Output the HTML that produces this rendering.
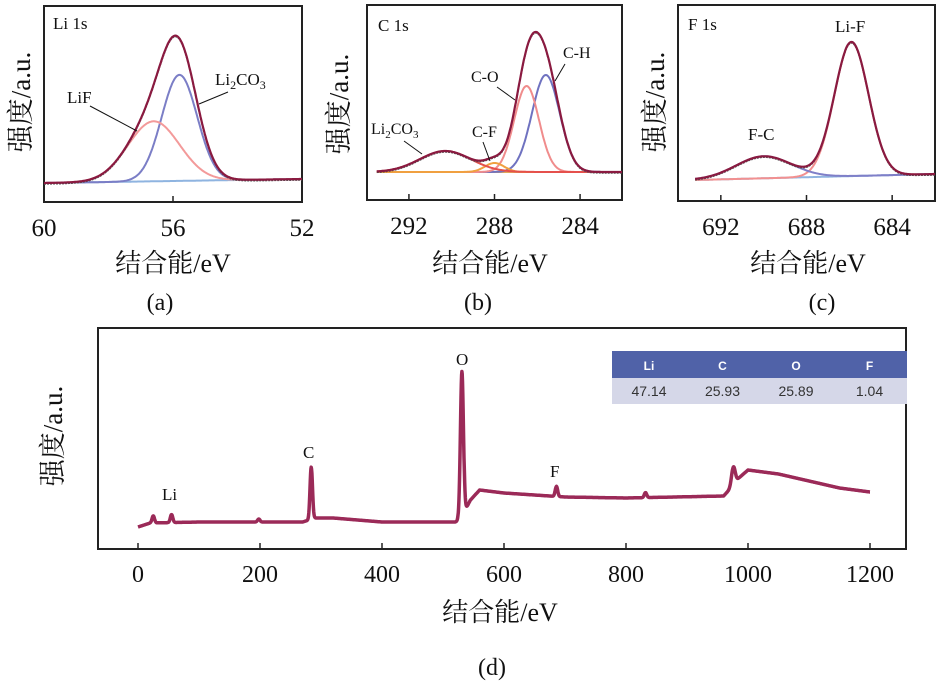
<!DOCTYPE html>
<html><head><meta charset="utf-8"><style>
body{margin:0;background:#fff;width:940px;height:693px;overflow:hidden}
svg{display:block}
text{font-family:"Liberation Serif","Noto Serif CJK SC",serif;fill:#111}
</style></head><body>
<svg id="fig" width="940" height="693" viewBox="0 0 940 693">
<rect x="44" y="6" width="258" height="196" fill="none" stroke="#222" stroke-width="2"/>
<rect x="367" y="5" width="255" height="195" fill="none" stroke="#222" stroke-width="2"/>
<rect x="678" y="5" width="257" height="196" fill="none" stroke="#222" stroke-width="2"/>
<rect x="98" y="328" width="808" height="221" fill="none" stroke="#222" stroke-width="2"/>
<g id="plots"></g>
<text x="53" y="29" font-size="17">Li 1s</text>
<text x="378" y="31" font-size="17">C 1s</text>
<text x="688" y="30" font-size="17">F 1s</text>
<text x="67" y="103" font-size="17">LiF</text>
<line x1="90" y1="106" x2="137" y2="131" stroke="#111"/>
<text x="215" y="85" font-size="17">Li<tspan font-size="12" dy="4">2</tspan><tspan dy="-4">CO</tspan><tspan font-size="12" dy="4">3</tspan></text>
<line x1="228" y1="92" x2="199" y2="104" stroke="#111"/>
<text x="371" y="134" font-size="16">Li<tspan font-size="11" dy="4">2</tspan><tspan dy="-4">CO</tspan><tspan font-size="11" dy="4">3</tspan></text>
<line x1="404" y1="141" x2="422" y2="154" stroke="#111"/>
<text x="472" y="137" font-size="16">C-F</text>
<line x1="483" y1="142" x2="490" y2="161" stroke="#111"/>
<text x="471" y="82" font-size="16">C-O</text>
<line x1="497" y1="87" x2="515" y2="100" stroke="#111"/>
<text x="563" y="58" font-size="16">C-H</text>
<line x1="565" y1="64" x2="555" y2="81" stroke="#111"/>
<text x="748" y="140" font-size="17">F-C</text>
<text x="835" y="32" font-size="17">Li-F</text>
<text x="162" y="500" font-size="17">Li</text>
<text x="303" y="458" font-size="17">C</text>
<text x="456" y="365" font-size="17">O</text>
<text x="550" y="477" font-size="17">F</text>
<text transform="translate(30,102) rotate(-90)" font-size="27" text-anchor="middle">强度/a.u.</text>
<text transform="translate(348,104) rotate(-90)" font-size="27" text-anchor="middle">强度/a.u.</text>
<text transform="translate(664,102) rotate(-90)" font-size="27" text-anchor="middle">强度/a.u.</text>
<text transform="translate(62,436) rotate(-90)" font-size="27" text-anchor="middle">强度/a.u.</text>
<text x="173" y="272" font-size="26" text-anchor="middle">结合能/eV</text>
<text x="490" y="272" font-size="26" text-anchor="middle">结合能/eV</text>
<text x="808" y="272" font-size="26" text-anchor="middle">结合能/eV</text>
<text x="500" y="621" font-size="26" text-anchor="middle">结合能/eV</text>
<text x="160" y="310" font-size="24" text-anchor="middle">(a)</text>
<text x="478" y="310" font-size="24" text-anchor="middle">(b)</text>
<text x="822" y="310" font-size="24" text-anchor="middle">(c)</text>
<text x="492" y="675" font-size="24" text-anchor="middle">(d)</text>
<g>
<rect x="612" y="351" width="295" height="27" fill="#5062a8"/>
<rect x="612" y="378" width="295" height="26" fill="#d5d7e8"/>
</g>
</svg>
<script>
// ---- data ----
const aTicks=[60,56,52];
const aCenters=[55.8,56.6];          // Li2CO3, LiF
const aHeights=[106,60];
const aWidths=[0.55,0.8];
const bTicks=[292,288,284];
const bCenters=[285.6,286.5,288.0,290.3]; // C-H, C-O, C-F, Li2CO3
const bHeights=[97,86,9,21];
const bWidths=[0.65,0.58,0.45,1.2];
const cTicks=[692,688,684];
const cCenters=[685.9,690.0];       // Li-F, F-C
const cHeights=[134,22];
const cWidths=[0.8,1.3];
const dTicks=[0,200,400,600,800,1000,1200];
const dBgE=[0,20,100,270,290,320,400,520,528,545,560,600,700,800,960,972,985,1000,1050,1150,1200];
const dBgI=[3,7,8,8,12,12,8,8,10,30,40,37,33,32,34,42,52,60,56,42,38];
const dPeakE=[25,55,198,284,531,686,832,976];
const dPeakI=[7,8,3,52,145,10,5,18];
const dPeakW=[2,2,2,2,2.5,2,2,3];
const tableHead=["Li","C","O","F"];
const tableVals=["47.14","25.93","25.89","1.04"];

const NS="http://www.w3.org/2000/svg";
const g=document.getElementById('plots');
function mk(tag,attrs){const e=document.createElementNS(NS,tag);for(const k in attrs)e.setAttribute(k,attrs[k]);return e;}
function gauss(x,c,h,w){return h*Math.exp(-(x-c)*(x-c)/(2*w*w));}
function pathFrom(pts){return pts.map((p,i)=>(i?'L':'M')+p[0].toFixed(1)+','+p[1].toFixed(1)).join('');}

function panel(key,xlo,xhi,px0,px1,base0,base1,ticks,cen,hei,wid,colors,totalColor,baseColor,tickY,dataLo,dataHi){
  const sx=e=>px0+(e-xlo)/(xhi-xlo)*(px1-px0);
  const basePx=e=>base0+(e-dataLo)/(dataHi-dataLo)*(base1-base0);
  const N=300;const comps=cen.map(()=>[]);const tot=[];const base=[];
  for(let i=0;i<=N;i++){
    const e=dataLo+(dataHi-dataLo)*i/N;const x=sx(e);const b=basePx(e);let s=0;
    cen.forEach((c,j)=>{const v=gauss(e,c,hei[j],wid[j]);s+=v;comps[j].push([x,b-v]);});
    tot.push([x,b-s]);base.push([x,b]);
  }
  const bl=mk('path',{d:pathFrom(base),fill:'none',stroke:baseColor,'stroke-width':2});
  
  
  g.appendChild(bl);
  comps.forEach((pts,j)=>{
    const p=mk('path',{d:pathFrom(pts),fill:'none',stroke:colors[j],'stroke-width':2});
    
    
    g.appendChild(p);
  });
  const d=mk('path',{d:pathFrom(tot.map(p=>[p[0],p[1]+1])),fill:'none',stroke:'#555','stroke-width':1.5,'stroke-dasharray':'2 1'});
  
  
  g.appendChild(d);
  const t=mk('path',{d:pathFrom(tot),fill:'none',stroke:totalColor,'stroke-width':2.2});
  
  
  g.appendChild(t);
  ticks.forEach(v=>{
    const x=sx(v);
    const tk=mk('line',{x1:x,x2:x,y1:tickY-6,y2:tickY,stroke:'#222','stroke-width':1.5});
    
    
    g.appendChild(tk);
    const tl=mk('text',{x:x,y:tickY+34,'font-size':25,'text-anchor':'middle'});
    tl.textContent=v;
    
    
    g.appendChild(tl);
  });
}
panel('panel-a',60,52,44,302,183,179,aTicks,aCenters,aHeights,aWidths,['#7b7ec6','#f39a9a'],'#8a1a40','#8fb4e0',202,60,52);
panel('panel-b',293.96,282.04,367,622,172,172,bTicks,bCenters,bHeights,bWidths,['#6f72c0','#f08c8c','#f0a040','#e5504c'],'#8a1a40','#e0a858',200,293.5,282.04);
panel('panel-c',694.0,682.0,678,935,180,174,cTicks,cCenters,cHeights,cWidths,['#f29090','#7f7fc8'],'#8a1a40','#8fb4e0',201,693.2,682.0);

(function(){
  const sx=e=>138+e*(870-138)/1200;const y0=530;
  function bg(e){for(let i=1;i<dBgE.length;i++){if(e<=dBgE[i]){const t=(e-dBgE[i-1])/(dBgE[i]-dBgE[i-1]);return dBgI[i-1]+t*(dBgI[i]-dBgI[i-1]);}}return dBgI[dBgI.length-1];}
  const pts=[];
  for(let e=0;e<=1200;e+=0.5){let s=bg(e);dPeakE.forEach((c,j)=>{s+=gauss(e,c,dPeakI[j],dPeakW[j]);});pts.push([sx(e),y0-s]);}
  const p=mk('path',{d:pathFrom(pts),fill:'none',stroke:'#9b2a58','stroke-width':3.5,'stroke-linejoin':'round'});
  
  
  g.appendChild(p);
  dTicks.forEach(v=>{
    const x=sx(v);
    const tk=mk('line',{x1:x,x2:x,y1:543,y2:549,stroke:'#222','stroke-width':1.5});
    
    
    g.appendChild(tk);
    const tl=mk('text',{x:x,y:582,'font-size':24,'text-anchor':'middle'});
    tl.textContent=v;
    
    
    g.appendChild(tl);
  });
  const svg=document.getElementById('fig');
  tableHead.forEach((h,i)=>{
    const cx=649+i*73.5;
    const th=mk('text',{x:cx,y:370,'font-size':12,'text-anchor':'middle','font-weight':'bold',style:'font-family:"Liberation Sans",sans-serif;fill:#fff'});
    th.textContent=h;
    
    
    svg.appendChild(th);
    const td=mk('text',{x:cx,y:396,'font-size':14,'text-anchor':'middle',style:'font-family:"Liberation Sans",sans-serif;fill:#333'});
    td.textContent=tableVals[i];
    
    
    svg.appendChild(td);
  });
})();
</script>
</body></html>
